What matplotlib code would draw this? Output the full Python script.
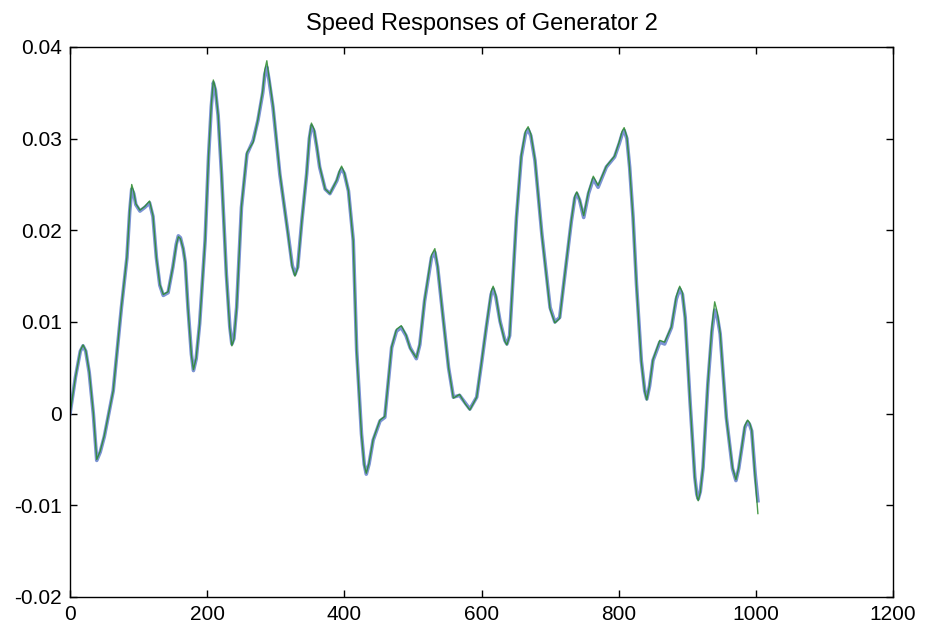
import matplotlib
matplotlib.use("Agg")
import matplotlib.pyplot as plt

plt.rcParams['font.family'] = ['Liberation Sans', 'DejaVu Sans']
plt.rcParams['axes.unicode_minus'] = False

title = "Speed Responses of Generator 2"

t = [0, 8, 15, 19, 23, 28, 34, 39, 44, 50, 63, 75, 83, 87, 90, 93, 96, 102, 109, 116, 121, 126, 131,
     136, 143, 150, 155, 158, 161, 165, 168, 172, 177, 180, 184, 189, 197, 202, 206, 209, 212, 216,
     221, 228, 233, 236, 239, 243, 250, 258, 267, 274, 281, 284, 287, 290, 296, 306, 318, 324, 328,
     332, 338, 345, 349, 352, 356, 360, 364, 372, 379, 389, 393, 396, 400, 406, 413, 418, 425, 429,
     432, 436, 442, 452, 459, 469, 476, 483, 490, 496, 505, 510, 517, 527, 532, 536, 544, 552, 559,
     568, 576, 583, 593, 600, 607, 614, 617, 621, 627, 634, 637, 641, 644, 651, 658, 664, 668, 672,
     678, 688, 700, 707, 714, 724, 731, 736, 739, 743, 749, 756, 763, 770, 782, 794, 801, 805, 808,
     812, 816, 821, 826, 833, 838, 841, 845, 850, 860, 867, 877, 884, 889, 893, 897, 904, 911, 914,
     916, 919, 923, 930, 936, 940, 944, 948, 957, 966, 971, 975, 979, 984, 988, 991, 994, 999, 1003]

speed_blue = [0.0000, 0.0040, 0.0068, 0.0074, 0.0068, 0.0045, 0.0000, -0.0051, -0.0042, -0.0025,
              0.0025, 0.0116, 0.0170, 0.0220, 0.0245, 0.0240, 0.0228, 0.0221, 0.0225, 0.0230, 0.0215,
              0.0170, 0.0140, 0.0129, 0.0132, 0.0160, 0.0185, 0.0194, 0.0192, 0.0180, 0.0165, 0.0116,
              0.0065, 0.0047, 0.0060, 0.0098, 0.0189, 0.0280, 0.0335, 0.0361, 0.0353, 0.0325, 0.0261,
              0.0152, 0.0095, 0.0076, 0.0082, 0.0116, 0.0225, 0.0283, 0.0298, 0.0320, 0.0350, 0.0370,
              0.0378, 0.0365, 0.0334, 0.0261, 0.0196, 0.0162, 0.0152, 0.0160, 0.0210, 0.0261, 0.0300,
              0.0314, 0.0308, 0.0290, 0.0269, 0.0245, 0.0240, 0.0254, 0.0263, 0.0267, 0.0262, 0.0243,
              0.0189, 0.0069, -0.0022, -0.0055, -0.0066, -0.0055, -0.0029, -0.0008, -0.0004, 0.0072,
              0.0090, 0.0094, 0.0085, 0.0072, 0.0060, 0.0075, 0.0123, 0.0170, 0.0176, 0.0160, 0.0105,
              0.0050, 0.0018, 0.0020, 0.0012, 0.0005, 0.0018, 0.0055, 0.0094, 0.0130, 0.0136, 0.0127,
              0.0101, 0.0080, 0.0076, 0.0085, 0.0123, 0.0214, 0.0280, 0.0305, 0.0310, 0.0303, 0.0276,
              0.0196, 0.0116, 0.0100, 0.0105, 0.0167, 0.0210, 0.0235, 0.0240, 0.0233, 0.0214, 0.0240,
              0.0256, 0.0247, 0.0269, 0.0280, 0.0295, 0.0305, 0.0309, 0.0300, 0.0269, 0.0214, 0.0141,
              0.0058, 0.0025, 0.0016, 0.0030, 0.0058, 0.0078, 0.0076, 0.0094, 0.0125, 0.0136, 0.0130,
              0.0105, 0.0014, -0.0069, -0.0088, -0.0093, -0.0085, -0.0059, 0.0032, 0.0090, 0.0113,
              0.0105, 0.0087, -0.0004, -0.0060, -0.0073, -0.0060, -0.0040, -0.0015, -0.0009, -0.0012,
              -0.0019, -0.0066, -0.0095]

speed_green = [0.0000, 0.0040, 0.0069, 0.0075, 0.0069, 0.0046, 0.0001, -0.0050, -0.0041, -0.0024,
               0.0025, 0.0117, 0.0171, 0.0222, 0.0250, 0.0242, 0.0229, 0.0222, 0.0226, 0.0232, 0.0216,
               0.0170, 0.0141, 0.0130, 0.0133, 0.0160, 0.0184, 0.0193, 0.0191, 0.0180, 0.0166, 0.0115,
               0.0064, 0.0048, 0.0061, 0.0098, 0.0189, 0.0281, 0.0337, 0.0364, 0.0355, 0.0326, 0.0261,
               0.0151, 0.0093, 0.0074, 0.0081, 0.0116, 0.0226, 0.0285, 0.0296, 0.0321, 0.0352, 0.0375,
               0.0385, 0.0368, 0.0336, 0.0262, 0.0195, 0.0160, 0.0150, 0.0159, 0.0210, 0.0262, 0.0302,
               0.0317, 0.0310, 0.0291, 0.0270, 0.0245, 0.0240, 0.0255, 0.0265, 0.0270, 0.0263, 0.0243,
               0.0188, 0.0067, -0.0023, -0.0056, -0.0065, -0.0054, -0.0028, -0.0007, -0.0003, 0.0073,
               0.0092, 0.0096, 0.0086, 0.0071, 0.0061, 0.0076, 0.0124, 0.0173, 0.0180, 0.0161, 0.0104,
               0.0050, 0.0017, 0.0021, 0.0011, 0.0004, 0.0018, 0.0056, 0.0095, 0.0133, 0.0139, 0.0129,
               0.0100, 0.0079, 0.0075, 0.0085, 0.0124, 0.0215, 0.0282, 0.0308, 0.0313, 0.0305, 0.0277,
               0.0195, 0.0114, 0.0099, 0.0104, 0.0168, 0.0211, 0.0237, 0.0242, 0.0234, 0.0216, 0.0242,
               0.0259, 0.0249, 0.0270, 0.0281, 0.0297, 0.0308, 0.0312, 0.0302, 0.0268, 0.0213, 0.0140,
               0.0057, 0.0024, 0.0015, 0.0031, 0.0059, 0.0080, 0.0078, 0.0095, 0.0128, 0.0139, 0.0132,
               0.0104, 0.0013, -0.0070, -0.0090, -0.0095, -0.0086, -0.0058, 0.0033, 0.0095, 0.0122,
               0.0110, 0.0088, -0.0005, -0.0059, -0.0072, -0.0059, -0.0039, -0.0013, -0.0007, -0.0010,
               -0.0018, -0.0070, -0.0109]

xticks = [0, 200, 400, 600, 800, 1000, 1200]
yticks = [-0.02, -0.01, 0, 0.01, 0.02, 0.03, 0.04]
ytick_labels = ["-0.02", "-0.01", "0", "0.01", "0.02", "0.03", "0.04"]

fig = plt.figure(figsize=(9.25, 6.23), dpi=100)
ax = fig.add_axes([70/925, 1-597/623, (893-70)/925, (597-47)/623])

ax.plot(t, speed_blue, color='#5a78c8', lw=2.6, alpha=0.8, solid_joinstyle='round')
ax.plot(t, speed_green, color='#2a8a2a', lw=1.0, alpha=0.85, solid_joinstyle='round')

ax.set_xlim(0, 1200)
ax.set_ylim(-0.02, 0.04)
ax.set_xticks(xticks)
ax.set_xticklabels([str(v) for v in xticks])
ax.set_yticks(yticks)
ax.set_yticklabels(ytick_labels)
ax.tick_params(direction='in', top=True, right=True, labelsize=15, length=5, width=1, pad=6)
for s in ax.spines.values():
    s.set_linewidth(1.0)
ax.set_title(title, fontsize=17, pad=12)

fig.savefig("out.png", dpi=100)
